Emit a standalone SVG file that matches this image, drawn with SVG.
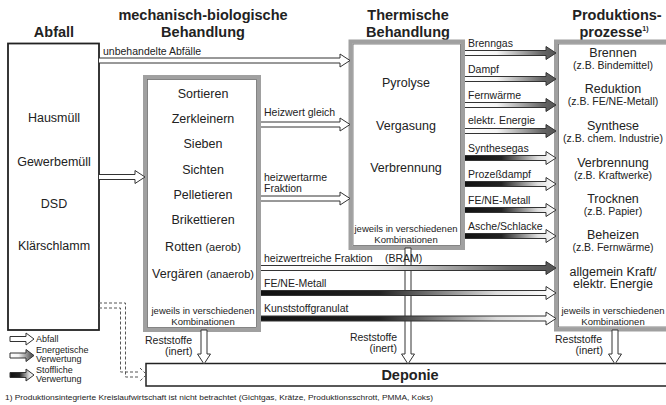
<svg xmlns="http://www.w3.org/2000/svg" width="666" height="405" viewBox="0 0 666 405">
<style>
text{font-family:"Liberation Sans",Arial,sans-serif;fill:#222}
.t{font-size:14.5px;font-weight:bold;text-anchor:middle}
.m{font-size:12.5px;text-anchor:middle}
.p{font-size:12.5px;text-anchor:middle}
.s{font-size:10.5px;text-anchor:middle}
.j{font-size:9.5px;text-anchor:middle}
.l{font-size:10.5px}
.g{font-size:9px}
.gb{fill:none;stroke:#a0a0a0;stroke-width:4}
.gi{fill:none;stroke:#666;stroke-width:0.8}
.ar{stroke:#333;stroke-width:1;stroke-linejoin:miter}
.wa{fill:#fff}
.ea{fill:url(#gE)}
.sa{fill:url(#gS)}
.dot{fill:none;stroke:#555;stroke-width:1;stroke-dasharray:3 2}
</style>
<defs>
<linearGradient id="gE" x1="0" y1="0" x2="1" y2="0">
<stop offset="0" stop-color="#fff"/><stop offset="0.35" stop-color="#f4f4f4"/><stop offset="0.85" stop-color="#666"/><stop offset="1" stop-color="#555"/>
</linearGradient>
<linearGradient id="gS" x1="0" y1="0" x2="1" y2="0">
<stop offset="0" stop-color="#111"/><stop offset="0.4" stop-color="#222"/><stop offset="0.8" stop-color="#ddd"/><stop offset="1" stop-color="#fff"/>
</linearGradient>
</defs>
<rect width="666" height="405" fill="#fff"/>

<g id="titles">
<text class="t" x="54" y="37">Abfall</text>
<text class="t" x="203" y="20">mechanisch-biologische</text>
<text class="t" x="203" y="37">Behandlung</text>
<text class="t" x="408" y="20">Thermische</text>
<text class="t" x="408" y="37">Behandlung</text>
<text class="t" x="617" y="20">Produktions-</text>
<text class="t" x="614" y="37">prozesse<tspan font-size="7" dy="-6">1)</tspan></text>
</g>

<g id="abfall">
<rect x="8" y="43.5" width="91" height="286.5" fill="#fff" stroke="#222" stroke-width="1.8"/>
<text class="m" x="54" y="121.5">Hausmüll</text>
<text class="m" x="54" y="165.5">Gewerbemüll</text>
<text class="m" x="54" y="207.5">DSD</text>
<text class="m" x="54" y="249.5">Klärschlamm</text>
</g>

<g id="mbb">
<rect x="145" y="77" width="114" height="253" fill="#fff" class="gb"/>
<rect x="147.5" y="79.5" width="109" height="248" class="gi"/>
<text class="m" x="203" y="97.5">Sortieren</text>
<text class="m" x="203" y="122.5">Zerkleinern</text>
<text class="m" x="203" y="147.5">Sieben</text>
<text class="m" x="203" y="173.5">Sichten</text>
<text class="m" x="203" y="198.5">Pelletieren</text>
<text class="m" x="203" y="223.5">Brikettieren</text>
<text class="m" x="203" y="250.5">Rotten <tspan font-size="11">(aerob)</tspan></text>
<text class="m" x="203" y="277.5">Vergären <tspan font-size="11">(anaerob)</tspan></text>
<text class="j" x="203" y="314">jeweils in verschiedenen</text>
<text class="j" x="203" y="324.5">Kombinationen</text>
</g>

<g id="thermisch">
<rect x="350.5" y="41.5" width="112.5" height="206.5" fill="#fff" class="gb"/>
<rect x="353" y="44" width="107.5" height="201.5" class="gi"/>
<text class="m" x="406" y="86.5">Pyrolyse</text>
<text class="m" x="406" y="129.5">Vergasung</text>
<text class="m" x="406" y="171.5">Verbrennung</text>
<text class="j" x="406" y="232">jeweils in verschiedenen</text>
<text class="j" x="406" y="242.5">Kombinationen</text>
</g>

<g id="produktion">
<rect x="556" y="41.5" width="114" height="288" fill="#fff" class="gb"/>
<rect x="558.5" y="44" width="110" height="283" class="gi"/>
<text class="p" x="613" y="56.5">Brennen</text>
<text class="s" x="613" y="68.5">(z.B. Bindemittel)</text>
<text class="p" x="613" y="93">Reduktion</text>
<text class="s" x="613" y="105">(z.B. FE/NE-Metall)</text>
<text class="p" x="613" y="129.5">Synthese</text>
<text class="s" x="613" y="141.5">(z.B. chem. Industrie)</text>
<text class="p" x="613" y="166.5">Verbrennung</text>
<text class="s" x="613" y="178.5">(z.B. Kraftwerke)</text>
<text class="p" x="613" y="202.5">Trocknen</text>
<text class="s" x="613" y="214.5">(z.B. Papier)</text>
<text class="p" x="613" y="239">Beheizen</text>
<text class="s" x="613" y="251">(z.B. Fernwärme)</text>
<text class="p" x="613" y="275.5">allgemein Kraft/</text>
<text class="p" x="613" y="288">elektr. Energie</text>
<text class="j" x="613" y="314">jeweils in verschiedenen</text>
<text class="j" x="613" y="324.5">Kombinationen</text>
</g>

<g id="deponie">
<rect x="146" y="363.5" width="530" height="22.5" fill="#fff" stroke="#222" stroke-width="1.5"/>
<text class="t" x="410" y="380" font-size="15">Deponie</text>
</g>

<g id="connectors">
<path class="dot" d="M99,303 H125.5 V377 H140"/>
<path class="dot" d="M99,308 H120.5 V372 H140"/>
<path class="dot" d="M140,368 L146.5,374.5 L140,381"/>

<path class="ar wa" d="M405,248 V354 H401.5 L408,364 L414.5,354 H411 V248 Z"/>
<path class="ar wa" d="M201,330 V354 H197.5 L204,364 L210.5,354 H207 V330 Z"/>
<path class="ar wa" d="M612,330 V354 H608.5 L615,364 L621.5,354 H618 V330 Z"/>

<path class="ar wa" d="M99,58 H340 V54 L350,60.5 L340,67 V63 H99"/>
<path class="ar wa" d="M99,174.5 H135 V170.5 L145,177 L135,183.5 V179.5 H99"/>
<path class="ar wa" d="M261,122 H340 V118 L350,124.5 L340,131 V127 H261"/>
<path class="ar wa" d="M261,196 H340 V192 L350,198.5 L340,205 V201 H261"/>

<path class="ar ea" d="M465,50.5 H546 V46.5 L556,53 L546,59.5 V55.5 H465"/>
<path class="ar ea" d="M465,76.5 H546 V72.5 L556,79 L546,85.5 V81.5 H465"/>
<path class="ar ea" d="M465,102.5 H546 V98.5 L556,105 L546,111.5 V107.5 H465"/>
<path class="ar ea" d="M465,128.5 H546 V124.5 L556,131 L546,137.5 V133.5 H465"/>
<path class="ar sa" d="M465,155.5 H546 V151.5 L556,158 L546,164.5 V160.5 H465"/>
<path class="ar sa" d="M465,181.5 H546 V177.5 L556,184 L546,190.5 V186.5 H465"/>
<path class="ar sa" d="M465,207.5 H546 V203.5 L556,210 L546,216.5 V212.5 H465"/>
<path class="ar sa" d="M465,233.5 H546 V229.5 L556,236 L546,242.5 V238.5 H465"/>

<path class="ar ea" d="M261,265.5 H546 V261.5 L556,268 L546,274.5 V270.5 H261"/>
<path class="ar sa" d="M261,290.5 H546 V286.5 L556,293 L546,299.5 V295.5 H261"/>
<path class="ar sa" d="M261,316 H546 V312 L556,318.5 L546,325 V321 H261"/>

<text class="l" x="103" y="55">unbehandelte Abfälle</text>
<text class="l" x="264" y="116">Heizwert gleich</text>
<text class="l" x="264" y="181">heizwertarme</text>
<text class="l" x="264" y="192">Fraktion</text>
<text class="l" x="468" y="47">Brenngas</text>
<text class="l" x="468" y="73">Dampf</text>
<text class="l" x="468" y="99">Fernwärme</text>
<text class="l" x="468" y="124">elektr. Energie</text>
<text class="l" x="468" y="152">Synthesegas</text>
<text class="l" x="468" y="178">Prozeßdampf</text>
<text class="l" x="468" y="204">FE/NE-Metall</text>
<text class="l" x="468" y="230">Asche/Schlacke</text>
<text class="l" x="264" y="262">heizwertreiche Fraktion</text>
<text class="l" x="385" y="262">(BRAM)</text>
<text class="l" x="264" y="287">FE/NE-Metall</text>
<text class="l" x="264" y="312">Kunststoffgranulat</text>
<text class="l" x="145" y="344">Reststoffe</text>
<text class="l" x="165" y="355">(inert)</text>
<text class="l" x="397" y="341" text-anchor="end">Reststoffe</text>
<text class="l" x="397" y="352" text-anchor="end">(inert)</text>
<text class="l" x="555" y="343">Reststoffe</text>
<text class="l" x="603" y="354" text-anchor="end">(inert)</text>
</g>

<g id="legend">
<path class="ar wa" d="M10,336.5 H26 V333 L34,339 L26,345 V341.5 H10 Z"/>
<path class="ar ea" d="M10,353 H26 V349.5 L34,355.5 L26,361.5 V358 H10 Z"/>
<path class="ar sa" d="M10,372.5 H26 V369 L34,375 L26,381 V377.5 H10 Z"/>
<text class="g" x="36" y="342">Abfall</text>
<text class="g" x="36" y="352.5">Energetische</text>
<text class="g" x="36" y="361.5">Verwertung</text>
<text class="g" x="36" y="373">Stoffliche</text>
<text class="g" x="36" y="382">Verwertung</text>
</g>

<text x="5" y="399.5" font-size="7.8" textLength="428" lengthAdjust="spacingAndGlyphs">1) Produktionsintegrierte Kreislaufwirtschaft ist nicht betrachtet (Gichtgas, Krätze, Produktionsschrott, PMMA, Koks)</text>
</svg>
